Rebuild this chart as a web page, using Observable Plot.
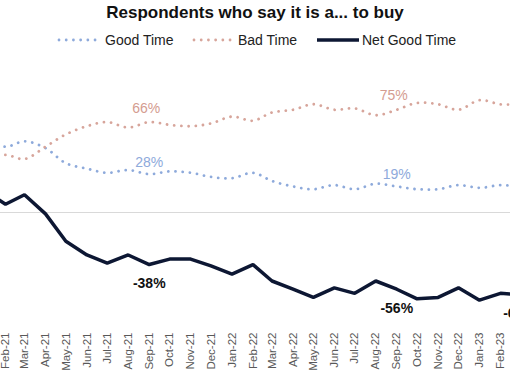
<!DOCTYPE html>
<html><head><meta charset="utf-8">
<script src="https://cdn.jsdelivr.net/npm/d3@7"></script>
<script src="https://cdn.jsdelivr.net/npm/@observablehq/plot@0.6"></script>
<style>
body{margin:0;background:#fff;font-family:"Liberation Sans",Arial,sans-serif;}
#wrap{position:relative;width:510px;height:382px;overflow:hidden;}
#head{position:relative;height:52px;}
.title{position:absolute;left:0;width:510px;top:3px;text-align:center;font-weight:bold;font-size:17px;color:#111;line-height:20px;}
.lg{position:absolute;top:31px;font-size:14px;color:#222;line-height:18px;white-space:nowrap;}
.sw{position:absolute;top:36px;height:8px;}
#chart svg{display:block;}
</style></head><body>
<div id="wrap">
  <div id="head">
    <div class="title">Respondents who say it is a... to buy</div>
    <svg class="sw" style="left:57px" width="42" height="8"><line x1="2" y1="4" x2="40" y2="4" stroke="#8eaadb" stroke-width="2.8" stroke-dasharray="0.01 7.2" stroke-linecap="round"/></svg>
    <div class="lg" style="left:105px">Good Time</div>
    <svg class="sw" style="left:192px" width="42" height="8"><line x1="2" y1="4" x2="40" y2="4" stroke="#d7a59b" stroke-width="2.8" stroke-dasharray="0.01 7.2" stroke-linecap="round"/></svg>
    <div class="lg" style="left:238px">Bad Time</div>
    <svg class="sw" style="left:317px" width="42" height="8"><line x1="0" y1="4" x2="42" y2="4" stroke="#0d1733" stroke-width="3.5"/></svg>
    <div class="lg" style="left:362px">Net Good Time</div>
  </div>
  <div id="chart"></div>
</div>
<script>
const months = ["Jan-21","Feb-21","Mar-21","Apr-21","May-21","Jun-21","Jul-21","Aug-21","Sep-21","Oct-21","Nov-21","Dec-21",
  "Jan-22","Feb-22","Mar-22","Apr-22","May-22","Jun-22","Jul-22","Aug-22","Sep-22","Oct-22","Nov-22","Dec-22",
  "Jan-23","Feb-23","Mar-23"];
const goodTime = [54,48,52,47,36,32,29,31,28,30,29,26,25,29,23,19,17,20,17,21,19,17,17,20,18,20,19];
const badTime  = [38,42,39,48,57,63,66,62,66,64,63,65,70,67,73,75,79,75,76,71,75,80,79,75,82,79,79];
const netGood  = [16,6,13,-1,-21,-31,-37,-31,-38,-34,-34,-39,-45,-38,-50,-56,-62,-55,-59,-50,-56,-63,-62,-55,-64,-59,-60];
// visible tick labels (the chart is cropped at Feb-21 .. Feb-23)
const tickLabels = months.slice(1, 26);

const goodLabels = [["Sep-21",28],["Sep-22",19]];
const badLabels  = [["Sep-21",66],["Sep-22",75]];
const netLabels  = [["Sep-21",-38],["Sep-22",-56],["Mar-23",-60]];

const parse = d3.utcParse("%b-%y");
const fmt = d3.utcFormat("%b-%y");
const rows = months.map((m,i)=>({date:parse(m), good:goodTime[i], bad:badTime[i], net:netGood[i]}));
const tickDates = tickLabels.map(parse);

const font = "Liberation Sans, Arial, sans-serif";
const chart = Plot.plot({
  width:510, height:330,
  marginTop:0, marginLeft:0, marginRight:0, marginBottom:53,
  style:{fontFamily:font, background:"#fff"},
  x:{type:"utc", domain:[parse("Feb-21"), parse("Feb-23")], range:[5,500]},
  y:{domain:[0,100], range:[160,23], axis:null},
  marks:[
    Plot.ruleY([0],{stroke:"#d9d9d9", strokeWidth:1}),
    Plot.line(rows,{x:"date", y:"good", stroke:"#8eaadb", strokeWidth:2.8, strokeDasharray:"0.01 7.2", strokeLinecap:"round", curve:"catmull-rom", clip:true}),
    Plot.line(rows,{x:"date", y:"bad", stroke:"#d7a59b", strokeWidth:2.8, strokeDasharray:"0.01 7.2", strokeLinecap:"round", curve:"catmull-rom", clip:true}),
    Plot.line(rows,{x:"date", y:"net", stroke:"#0d1733", strokeWidth:3.5, strokeLinejoin:"miter", clip:true}),
    Plot.text(goodLabels,{x:d=>parse(d[0]), y:d=>d[1], text:d=>d[1]+"%", dy:-12, fill:"#8eaadb", fontSize:14}),
    Plot.text(badLabels,{x:d=>parse(d[0]), y:d=>d[1], text:d=>d[1]+"%", dy:-14, dx:-3, fill:"#d49c90", fontSize:14}),
    Plot.text(netLabels,{x:d=>parse(d[0]), y:d=>d[1], text:d=>d[1]+"%", dy:19, fill:"#111", fontSize:14, fontWeight:"bold"}),
    Plot.axisX({ticks:tickDates, tickFormat:fmt, tickRotate:-90, tickSize:0, tickPadding:3, fontSize:11.5, color:"#595959", label:null})
  ]
});
document.getElementById("chart").appendChild(chart);
</script>
</body></html>
